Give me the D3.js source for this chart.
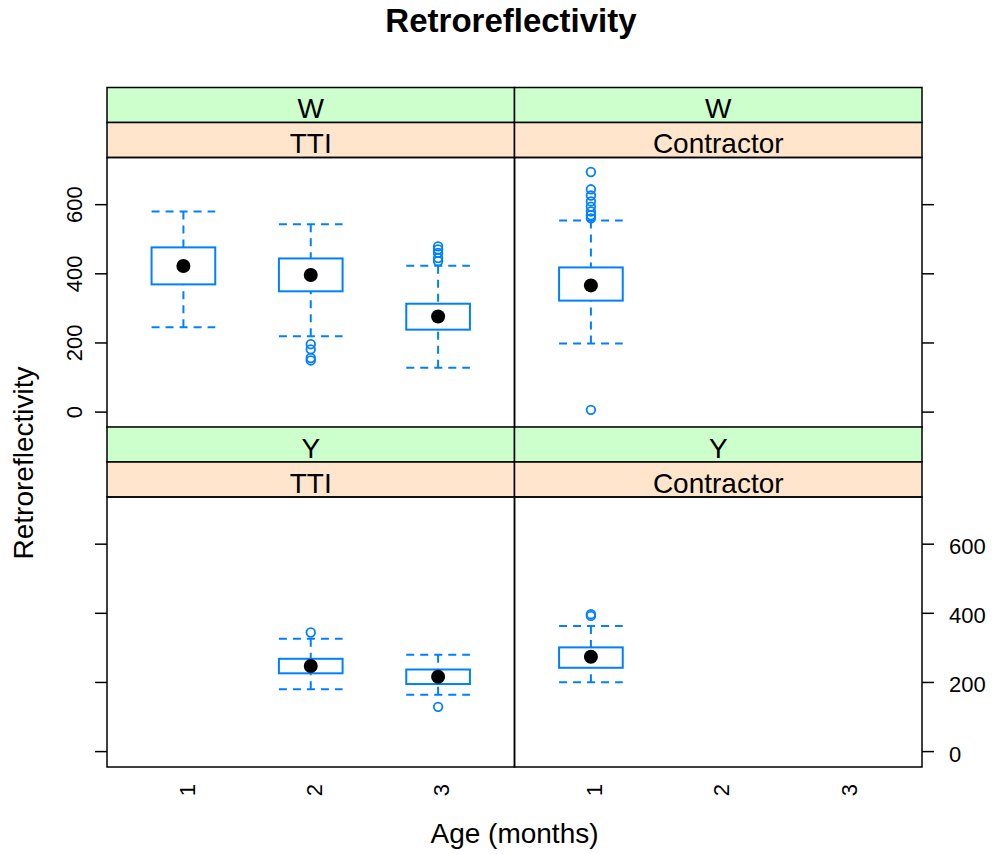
<!DOCTYPE html>
<html>
<head>
<meta charset="utf-8">
<script src="https://cdn.jsdelivr.net/npm/d3@7"></script>
<style>
  body { margin: 0; background: #fff; }
  text { font-family: "Liberation Sans", Arial, sans-serif; }
</style>
</head>
<body>
<div id="chart"></div>
<script>

// data

const AGES = [1, 2, 3];
const Y_TICKS = [0, 200, 400, 600];

// per age: [lower whisker, q1, median, q3, upper whisker], null = no data
const W_TTI_STATS = [[244, 368, 421, 475, 579], [218, 348, 395, 443, 542], [127, 237, 275, 312, 422]];
const W_TTI_OUT = [[], [195, 180, 155, 148], [478, 469, 459, 444, 435]];

const W_CON_STATS = [[197, 321, 365, 417, 553], null, null];
const W_CON_OUT = [[693, 643, 625, 608, 593, 579, 568, 559, 5], [], []];

const Y_TTI_STATS = [null, [179, 225, 246, 267, 325], [163, 194, 215, 236, 279]];
const Y_TTI_OUT = [[], [343], [128]];

const Y_CON_STATS = [[199, 241, 273, 300, 362], null, null];
const Y_CON_OUT = [[396, 391], [], []];

// layout
const WIDTH = 992;
const HEIGHT = 854;
const COLS = [107, 514.5, 922];
const STRIP_H = 35;
const ROW_TOPS = [87.5, 427];
const PANEL_H = 270;
const Y_DOMAIN = [-46, 735];
const BLUE = "#0080ff";
const TICK_FONT = "22px";

const PANELS = [
  {outer: "W", inner: "TTI", row: 0, col: 0, stats: W_TTI_STATS, out: W_TTI_OUT},
  {outer: "W", inner: "Contractor", row: 0, col: 1, stats: W_CON_STATS, out: W_CON_OUT},
  {outer: "Y", inner: "TTI", row: 1, col: 0, stats: Y_TTI_STATS, out: Y_TTI_OUT},
  {outer: "Y", inner: "Contractor", row: 1, col: 1, stats: Y_CON_STATS, out: Y_CON_OUT}
];

const SVG = d3.select("#chart")
  .append("svg")
    .attr("width", WIDTH)
    .attr("height", HEIGHT);

// title + axis titles
SVG.append("text")
  .attr("x", 511).attr("y", 32)
  .attr("text-anchor", "middle")
  .attr("font-size", "33px")
  .attr("font-weight", "bold")
  .text("Retroreflectivity");

SVG.append("text")
  .attr("transform", "translate(33,463) rotate(-90)")
  .attr("text-anchor", "middle")
  .attr("font-size", "28px")
  .text("Retroreflectivity");

SVG.append("text")
  .attr("x", 514.5).attr("y", 843)
  .attr("text-anchor", "middle")
  .attr("font-size", "28px")
  .text("Age (months)");

function draw_panel(p) {
  const x0 = COLS[p.col], x1 = COLS[p.col + 1];
  const top = ROW_TOPS[p.row];
  const pTop = top + 2 * STRIP_H;
  const pBot = pTop + PANEL_H;

  const X_SCALE = d3.scaleLinear().domain([0.4, 3.6]).range([x0, x1]);
  const Y_SCALE = d3.scaleLinear().domain(Y_DOMAIN).range([pBot, pTop]);

  const g = SVG.append("g");

  // strips
  g.append("rect")
    .attr("x", x0).attr("y", top).attr("width", x1 - x0).attr("height", STRIP_H)
    .attr("fill", "#ccffcc").attr("stroke", "#000").attr("stroke-width", 1.5);
  g.append("rect")
    .attr("x", x0).attr("y", top + STRIP_H).attr("width", x1 - x0).attr("height", STRIP_H)
    .attr("fill", "#ffe5cc").attr("stroke", "#000").attr("stroke-width", 1.5);
  g.append("text")
    .attr("x", (x0 + x1) / 2).attr("y", top + 30.5)
    .attr("text-anchor", "middle").attr("font-size", "28px")
    .text(p.outer);
  g.append("text")
    .attr("x", (x0 + x1) / 2).attr("y", top + STRIP_H + 30.5)
    .attr("text-anchor", "middle").attr("font-size", "28px")
    .text(p.inner);

  // boxes
  const boxes = AGES.map((a, i) => ({age: a, s: p.stats[i]})).filter(d => d.s);
  const hw = 0.25;

  const bg = g.selectAll(".box").data(boxes).enter().append("g").attr("class", "box");

  // whiskers (dashed)
  bg.append("line")
    .attr("x1", d => X_SCALE(d.age)).attr("x2", d => X_SCALE(d.age))
    .attr("y1", d => Y_SCALE(d.s[4])).attr("y2", d => Y_SCALE(d.s[3]))
    .attr("stroke", BLUE).attr("stroke-width", 2).attr("stroke-dasharray", "8,6");
  bg.append("line")
    .attr("x1", d => X_SCALE(d.age)).attr("x2", d => X_SCALE(d.age))
    .attr("y1", d => Y_SCALE(d.s[0])).attr("y2", d => Y_SCALE(d.s[1]))
    .attr("stroke", BLUE).attr("stroke-width", 2).attr("stroke-dasharray", "8,6");
  [0, 4].forEach(k => {
    bg.append("line")
      .attr("x1", d => X_SCALE(d.age - hw)).attr("x2", d => X_SCALE(d.age + hw))
      .attr("y1", d => Y_SCALE(d.s[k])).attr("y2", d => Y_SCALE(d.s[k]))
      .attr("stroke", BLUE).attr("stroke-width", 2).attr("stroke-dasharray", "8,6");
  });

  bg.append("rect")
    .attr("x", d => X_SCALE(d.age - hw))
    .attr("width", d => X_SCALE(d.age + hw) - X_SCALE(d.age - hw))
    .attr("y", d => Y_SCALE(d.s[3]))
    .attr("height", d => Y_SCALE(d.s[1]) - Y_SCALE(d.s[3]))
    .attr("fill", "none").attr("stroke", BLUE).attr("stroke-width", 2);

  bg.append("circle")
    .attr("cx", d => X_SCALE(d.age)).attr("cy", d => Y_SCALE(d.s[2]))
    .attr("r", 7).attr("fill", "#000");

  // outliers
  const outs = [];
  AGES.forEach((a, i) => p.out[i].forEach(v => outs.push({age: a, v: v})));
  g.selectAll(".out").data(outs).enter().append("circle")
    .attr("class", "out")
    .attr("cx", d => X_SCALE(d.age)).attr("cy", d => Y_SCALE(d.v))
    .attr("r", 4.3).attr("fill", "none").attr("stroke", BLUE).attr("stroke-width", 1.8);

  // panel border
  g.append("rect")
    .attr("x", x0).attr("y", pTop).attr("width", x1 - x0).attr("height", PANEL_H)
    .attr("fill", "none").attr("stroke", "#000").attr("stroke-width", 1.5);

  // y axis: left on col 0, right on col 1; labels on top-left and bottom-right
  const showLabels = (p.col === 0 && p.row === 0) || (p.col === 1 && p.row === 1);
  if (p.col === 0) {
    const ax = g.append("g")
      .attr("transform", "translate(" + x0 + ",0)")
      .call(d3.axisLeft(Y_SCALE).tickValues(Y_TICKS).tickSize(12)
        .tickFormat(showLabels ? d3.format("d") : ""));
    ax.select(".domain").remove();
    ax.selectAll("line").attr("stroke-width", 1.5);
    ax.selectAll("text")
      .attr("x", 0).attr("y", 0).attr("dy", "0.35em")
      .attr("transform", "translate(-33,0) rotate(-90)")
      .attr("text-anchor", "middle")
      .attr("font-size", TICK_FONT).attr("fill", "#000")
      .attr("font-family", null);
  } else {
    const ax = g.append("g")
      .attr("transform", "translate(" + x1 + ",0)")
      .call(d3.axisRight(Y_SCALE).tickValues(Y_TICKS).tickSize(12)
        .tickFormat(showLabels ? d3.format("d") : ""));
    ax.select(".domain").remove();
    ax.selectAll("line").attr("stroke-width", 1.5);
    ax.selectAll("text")
      .attr("x", 27).attr("dy", "0.45em")
      .attr("font-size", TICK_FONT).attr("fill", "#000")
      .attr("font-family", null);
  }

  // x axis labels under bottom row
  if (p.row === 1) {
    const ax = g.append("g")
      .attr("transform", "translate(0," + pBot + ")")
      .call(d3.axisBottom(X_SCALE).tickValues(AGES).tickSize(0).tickFormat(d3.format("d")));
    ax.select(".domain").remove();
    ax.selectAll("text")
      .attr("x", 0).attr("y", 0).attr("dy", "0.35em")
      .attr("transform", "translate(3,23) rotate(-90)")
      .attr("text-anchor", "middle")
      .attr("font-size", TICK_FONT).attr("fill", "#000")
      .attr("font-family", null);
  }
}

PANELS.forEach(draw_panel);

</script>
</body>
</html>
